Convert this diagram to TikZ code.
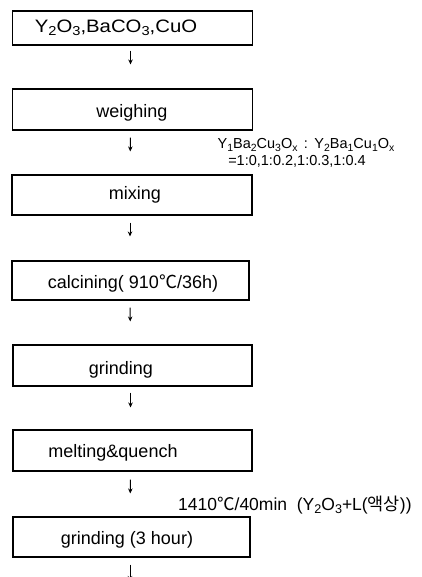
\documentclass[tikz,border=0pt]{standalone}
\usepackage{fontspec}
\usepackage{graphicx}
\setmainfont{Liberation Sans}
\newfontfamily\kr{Noto Sans CJK KR}
\usetikzlibrary{arrows.meta}
\newcommand{\sub}[1]{\raisebox{-0.35ex}{\scalebox{0.72}{#1}}}
\newcommand{\degc}{{\kr ℃}}
\begin{document}
\begin{tikzpicture}[x=1pt,y=-1pt,
  box/.style={draw, line width=1.1pt, inner sep=0pt, minimum width=240pt},
  lbl/.style={inner sep=0pt, font=\fontsize{18}{20}\selectfont},
  note/.style={inner sep=0pt, font=\fontsize{14.5}{15}\selectfont},
  arr/.style={line width=0.9pt, -{Stealth[length=5pt,width=4.5pt]}}]
\useasboundingbox (0,0) rectangle (422,577);
\node[box, minimum height=34pt] (b1) at (132.5,28) {};
\node[box, minimum height=41pt] (b2) at (132.5,109.5) {};
\node[box, minimum height=40pt] (b3) at (132,195) {};
\node[box, minimum height=39pt, minimum width=237pt] (b4) at (130.5,280.5) {};
\node[box, minimum height=41pt, minimum width=239pt] (b5) at (132.5,365.5) {};
\node[box, minimum height=41pt, minimum width=239pt] (b6) at (132.5,450.5) {};
\node[box, minimum height=40pt, minimum width=237pt] (b7) at (131.5,537) {};
\coordinate (end) at (130,581);
\node[lbl] (t1) at (116,28) {\scalebox{1.13}[1]{Y\sub{2}O\sub{3},BaCO\sub{3},CuO}};
\node[lbl] (t2) at (132,113) {weighing};
\node[lbl] (t3) at (135,195) {mixing};
\node[lbl] (t4) at (133,283) {calcining( 910\degc/36h)};
\node[lbl] (t5) at (121,370) {grinding};
\node[lbl] (t6) at (113,453) {melting\&quench};
\node[lbl] (t7) at (127,540) {grinding (3 hour)};
\node[note] (n1) at (306,145) {Y\sub{1}Ba\sub{2}Cu\sub{3}O\sub{x}\ \,:\ \,Y\sub{2}Ba\sub{1}Cu\sub{1}O\sub{x}};
\node[note] (n2) at (297,161) {=1:0,1:0.2,1:0.3,1:0.4};
\node[note, anchor=west, font=\fontsize{17.5}{18}\selectfont] (n3) at (178,505) {1410\degc/40min\ \ (Y\sub{2}O\sub{3}+L({\kr 액상}))};
\draw[arr, shorten <=5pt, shorten >=24pt] ([xshift=-2pt]b1.south) -- ([xshift=-2pt]b2.north);
\draw[arr, shorten <=7pt, shorten >=23pt] ([xshift=-2pt]b2.south) -- ([xshift=-2pt]b3.north);
\draw[arr, shorten <=7pt, shorten >=24pt] ([xshift=-2pt]b3.south) -- ([xshift=-0.5pt]b4.north);
\draw[arr, shorten <=7pt, shorten >=23pt] ([xshift=-0.5pt]b4.south) -- ([xshift=-2pt]b5.north);
\draw[arr, shorten <=6pt, shorten >=22pt] ([xshift=-2pt]b5.south) -- ([xshift=-2pt]b6.north);
\draw[arr, shorten <=8pt, shorten >=23pt] ([xshift=-2pt]b6.south) -- ([xshift=-1.5pt]b7.north);
\draw[arr, shorten <=7pt] ([xshift=-1.5pt]b7.south) -- (end);
\end{tikzpicture}
\end{document}
